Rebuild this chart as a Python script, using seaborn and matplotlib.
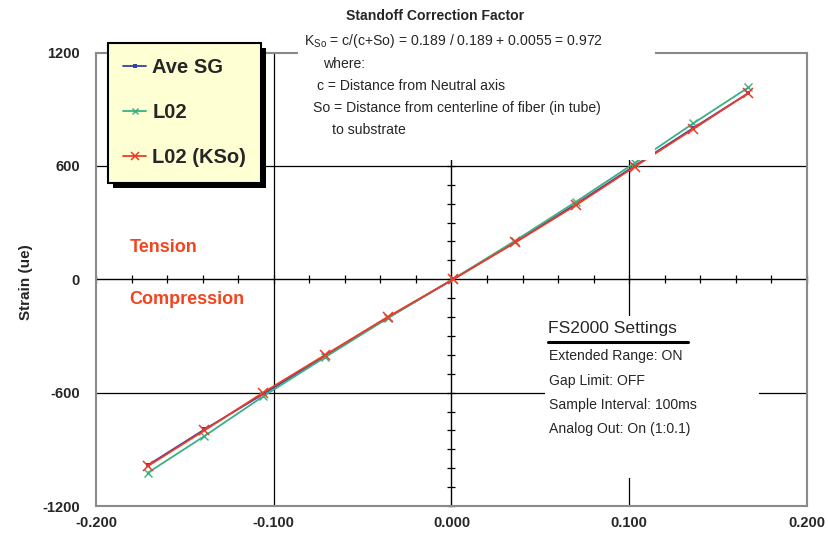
import numpy as np
import pandas as pd
import matplotlib
matplotlib.use("Agg")
import matplotlib.pyplot as plt
import seaborn as sns
from matplotlib import font_manager
from matplotlib.patches import Rectangle
from matplotlib.lines import Line2D
from matplotlib.transforms import IdentityTransform

# ---------------- data ----------------
displacement = [-0.171, -0.139, -0.106, -0.071, -0.036, 0.001, 0.036, 0.070, 0.103, 0.136, 0.167]
ave_sg = [-985, -795, -608, -405, -205, 0, 198, 398, 600, 800, 985]
l02 = [-1025, -830, -620, -412, -207, 2, 205, 410, 615, 825, 1015]
l02_kso = [-990, -800, -600, -400, -200, 0, 195, 392, 595, 795, 985]

series_names = ["Ave SG", "L02", "L02 (KSo)"]
x_ticks = [-0.2, -0.1, 0.0, 0.1, 0.2]
x_ticklabels = ["-0.200", "-0.100", "0.000", "0.100", "0.200"]
y_ticks = [-1200, -600, 0, 600, 1200]
y_ticklabels = ["-1200", "-600", "0", "600", "1200"]
y_label = "Strain (ue)"

title_text = "Standoff Correction Factor"
note_lines = [
    r"$\mathregular{K_{So}}$ = c/(c+So) = 0.189 / 0.189 + 0.0055 = 0.972",
    "where:",
    "c = Distance from Neutral axis",
    "So = Distance from centerline of fiber (in tube)",
    "to substrate",
]
settings_title = "FS2000 Settings"
settings_lines = [
    "Extended Range: ON",
    "Gap Limit: OFF",
    "Sample Interval: 100ms",
    "Analog Out: On (1:0.1)",
]

# ---------------- style ----------------
sns.set_style("white")
names = {f.name for f in font_manager.fontManager.ttflist}
BOLD = "Liberation Sans"
if "Liberation Sans Narrow" in names:
    NARROW, nscale = "Liberation Sans Narrow", 1.0
else:
    NARROW, nscale = "Liberation Sans", 0.84
plt.rcParams["font.family"] = [BOLD, "DejaVu Sans"]
plt.rcParams["mathtext.fontset"] = "custom"
plt.rcParams["mathtext.rm"] = NARROW

C_BLUE = "#3343a8"
C_GREEN = "#3caf86"
C_RED = "#ee3a26"
C_TEXT_RED = "#f2441e"

W, H = 829, 541
def fx(px):
    return px / W
def fy(py):
    return 1 - py / H

fig = plt.figure(figsize=(8.29, 5.41), dpi=100)
fig.patch.set_facecolor("white")
ax = fig.add_axes([fx(96), fy(506), fx(807) - fx(96), fy(52.5) - fy(506)])
ax.set_facecolor("white")
ax.set_xlim(-0.2, 0.2)
ax.set_ylim(-1200, 1200)

# grid lines and zero axes
for v in (-0.1, 0.1):
    ax.axvline(v, color="black", lw=0.9, zorder=1)
for h in (-600, 600):
    ax.axhline(h, color="black", lw=0.9, zorder=1)
ax.axvline(0, color="black", lw=1.0, zorder=1)
ax.axhline(0, color="black", lw=1.0, zorder=1)
hx = np.arange(-0.2, 0.2001, 0.02)
ax.plot(hx, np.zeros_like(hx), ls="none", marker="|", ms=6, mew=0.9,
        color="black", clip_on=False, zorder=1)
vy = np.arange(-1200, 1201, 100)
ax.plot(np.zeros_like(vy), vy, ls="none", marker="_", ms=6, mew=0.9,
        color="black", clip_on=False, zorder=1)

# white box behind the FS2000 settings
ax.add_patch(Rectangle((0.6315, 0.0617), 0.301, 0.357, transform=ax.transAxes,
                       facecolor="white", edgecolor="none", zorder=2))

# data
sns.lineplot(x=displacement, y=ave_sg, ax=ax, color=C_BLUE, lw=1.3, marker="s",
             markersize=3, markeredgewidth=0, markeredgecolor=C_BLUE,
             sort=False, estimator=None, label=series_names[0], zorder=3)
sns.lineplot(x=displacement, y=l02, ax=ax, color=C_GREEN, lw=1.3, marker="x",
             markersize=6, markeredgewidth=1.0, markeredgecolor=C_GREEN,
             sort=False, estimator=None, label=series_names[1], zorder=3)
sns.lineplot(x=displacement, y=l02_kso, ax=ax, color=C_RED, lw=1.3, marker="x",
             markersize=6.5, markeredgewidth=1.1, markeredgecolor=C_RED,
             sort=False, estimator=None, label=series_names[2], zorder=4)

handles, labels = ax.get_legend_handles_labels()
if ax.get_legend() is not None:
    ax.get_legend().remove()

# axes styling
for s in ax.spines.values():
    s.set_color("#8a8a8a")
    s.set_linewidth(1.5)
    s.set_visible(True)
ax.set_xticks(x_ticks)
ax.set_xticklabels(x_ticklabels)
ax.set_yticks(y_ticks)
ax.set_yticklabels(y_ticklabels)
ax.tick_params(axis="both", length=0, labelsize=10.5)
ax.tick_params(axis="y", pad=11.5)
ax.tick_params(axis="x", pad=7.5)
for t in ax.get_xticklabels() + ax.get_yticklabels():
    t.set_fontweight("bold")
    t.set_family(BOLD)
ax.set_xlabel("")
ax.set_ylabel("")

fig.text(fx(26), fy(282), y_label, rotation=90, ha="center", va="center",
         fontsize=11, fontweight="bold", family=BOLD)

# Tension / Compression
fig.text(fx(130), fy(247), "Tension", ha="left", va="center", fontsize=13,
         fontweight="bold", color=C_TEXT_RED, family=BOLD)
fig.text(fx(129), fy(300), "Compression", ha="left", va="center", fontsize=13,
         fontweight="bold", color=C_TEXT_RED, family=BOLD)

# annotation box (covers frame / grid at top)
fig.add_artist(Rectangle((fx(298), fy(160)), fx(655) - fx(298), fy(28) - fy(160),
                         transform=fig.transFigure, facecolor="white",
                         edgecolor="none", zorder=1))
fig.text(fx(435), fy(16), title_text, ha="center", va="center",
         fontsize=12 * nscale, fontweight="bold", family=NARROW, zorder=3)
note_pos = [(304, 41), (323, 64), (317, 86), (313, 108), (332, 130)]
for (px, py), line in zip(note_pos, note_lines):
    fig.text(fx(px), fy(py), line, ha="left", va="center",
             fontsize=12 * nscale, family=NARROW, zorder=3)

# FS2000 settings
fig.text(fx(548), fy(328), settings_title, ha="left", va="center",
         fontsize=15 * nscale, family=NARROW, zorder=3)
fig.add_artist(Line2D([fx(548), fx(688)], [fy(342), fy(342)], color="black",
                      lw=2.2, zorder=3))
for py, line in zip([356, 381, 405, 429], settings_lines):
    fig.text(fx(549), fy(py), line, ha="left", va="center",
             fontsize=12 * nscale, family=NARROW, zorder=3)

# legend with hard shadow
leg = fig.legend(handles, labels, loc="upper left",
                 bbox_to_anchor=(fx(108), fy(43)), bbox_transform=fig.transFigure,
                 frameon=True, fancybox=False, facecolor="#ffffd4",
                 edgecolor="black", framealpha=1,
                 prop=dict(family=BOLD, weight="bold", size=14.5),
                 borderpad=0.75, labelspacing=1.3, handlelength=1.15,
                 handletextpad=0.3, borderaxespad=0, markerscale=0.8)
leg.get_frame().set_linewidth(1.5)
leg.set_zorder(6)

fig.canvas.draw()
bb = leg.get_frame().get_window_extent(fig.canvas.get_renderer())
fig.add_artist(Rectangle((bb.x0 + 5, bb.y0 - 5), bb.width, bb.height,
                         transform=IdentityTransform(), facecolor="black",
                         edgecolor="none", zorder=5))

fig.savefig("out.png", dpi=100)
